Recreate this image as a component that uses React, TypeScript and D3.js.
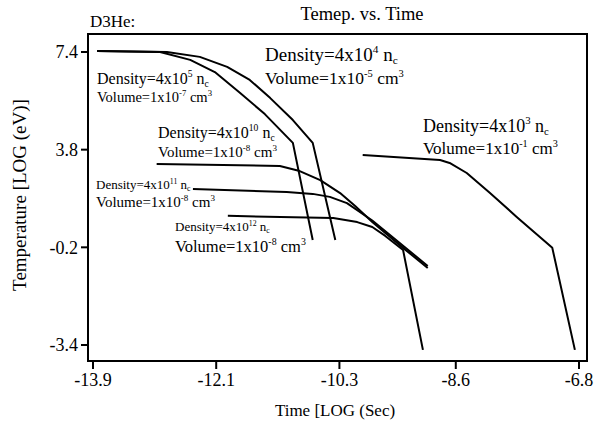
import * as d3 from "d3";
import React from "react";

// axis ticks
const xTickValues = [-13.9, -12.1, -10.3, -8.6, -6.8];
const xTickLabels = ["-13.9", "-12.1", "-10.3", "-8.6", "-6.8"];
const yTickValues = [7.4, 3.8, 0.2, -3.4];
const yTickLabels = ["7.4", "3.8", "-0.2", "-3.4"];

// curves, log10 time vs log10 temperature
const d4x = [-13.84, -12.82, -12.34, -11.94, -11.61, -11.31, -10.98, -10.69, -10.36];
const d4y = [7.44, 7.4, 7.22, 6.85, 6.37, 5.7, 4.89, 4.05, 0.47];

const d5x = [-13.84, -12.92, -12.48, -12.12, -11.75, -11.39, -10.98, -10.69];
const d5y = [7.44, 7.4, 7.11, 6.66, 5.89, 5.11, 4.05, 0.47];

const d10x = [-12.97, -11.17, -10.88, -10.58, -10.29, -10.07, -9.82, -9.37, -9.01];
const d10y = [3.27, 3.2, 3.01, 2.68, 2.2, 1.72, 1.13, 0.18, -0.56];

const d11x = [-12.44, -11.07, -10.69, -10.44, -10.19, -9.82, -9.37, -9.01];
const d11y = [2.35, 2.24, 2.17, 2.06, 1.83, 1.19, 0.26, -0.49];

const d12x = [-11.93, -10.39, -10.04, -9.82, -9.63, -9.37, -9.08];
const d12y = [1.36, 1.28, 1.13, 0.95, 0.62, 0.1, -3.58];

const d3x = [-9.96, -8.83, -8.69, -8.44, -8.1, -7.71, -7.19, -6.86];
const d3y = [3.6, 3.42, 3.31, 2.94, 2.2, 1.32, 0.18, -3.58];

// annotation texts
const densityExp = ["4", "3", "5", "10", "11", "12"];
const volumeExp = ["-5", "-1", "-7", "-8", "-8", "-8"];

const labelLayout = [
  { x: 265, y1: 61, y2: 84, s1: 19, s2: 17.5 },
  { x: 423, y1: 132, y2: 154, s1: 18, s2: 17 },
  { x: 97, y1: 84, y2: 102, s1: 16, s2: 14.5 },
  { x: 158, y1: 138, y2: 157, s1: 16, s2: 15 },
  { x: 96, y1: 189, y2: 207, s1: 13, s2: 15 },
  { x: 175, y1: 231, y2: 252, s1: 13, s2: 16.5 },
];

const W = 596;
const H = 428;
const left = 88, right = 587, top = 34, bottom = 361;
const font = "'Liberation Serif', 'Times New Roman', serif";

const x = d3.scaleLinear().domain([-13.973, -6.683]).range([left, right]);
const y = d3.scaleLinear().domain([-3.99, 8.063]).range([bottom, top]);

const line = d3
  .line<[number, number]>()
  .x((d) => x(d[0]))
  .y((d) => y(d[1]));

const zip = (xs: number[], ys: number[]) => xs.map((v, i) => [v, ys[i]] as [number, number]);

const series = [
  zip(d4x, d4y),
  zip(d5x, d5y),
  zip(d10x, d10y),
  zip(d11x, d11y),
  zip(d12x, d12y),
  zip(d3x, d3y),
];

type Part = [string, "" | "sup" | "sub"];

const Rich = ({ x, y, size, parts }: { x: number; y: number; size: number; parts: Part[] }) => {
  let cur = 0;
  return (
    <text x={x} y={y} fontSize={size} fontFamily={font} fill="#000">
      {parts.map(([t, k], i) => {
        const want = k === "sup" ? -0.42 * size : k === "sub" ? 0.16 * size : 0;
        const dy = want - cur;
        cur = want;
        return (
          <tspan key={i} dy={dy} fontSize={k ? size * 0.6 : size}>
            {t}
          </tspan>
        );
      })}
    </text>
  );
};

export default function App() {
  return (
    <svg
      width={W}
      height={H}
      style={{ position: "absolute", left: 0, top: 0, background: "#fff" }}
    >
      <rect x={0} y={0} width={W} height={H} fill="#fff" />
      <text x={90} y={27} fontSize={17} fontFamily={font}>
        D3He:
      </text>
      <text x={362} y={20} fontSize={18.5} fontFamily={font} textAnchor="middle">
        Temep. vs. Time
      </text>

      {series.map((s, i) => (
        <path key={i} d={line(s) || ""} fill="none" stroke="#000" strokeWidth={2} strokeLinejoin="round" />
      ))}

      <rect x={left} y={top} width={right - left} height={bottom - top} fill="none" stroke="#000" strokeWidth={2} />

      {yTickValues.map((v, i) => (
        <g key={i}>
          <line x1={left - 7} x2={left} y1={y(v)} y2={y(v)} stroke="#000" strokeWidth={2} />
          <text x={left - 10} y={y(v)} dy="0.35em" fontSize={18} fontFamily={font} textAnchor="end">
            {yTickLabels[i]}
          </text>
        </g>
      ))}
      {xTickValues.map((v, i) => (
        <g key={i}>
          <line x1={x(v)} x2={x(v)} y1={bottom} y2={bottom + 8} stroke="#000" strokeWidth={2} />
          <text x={x(v)} y={bottom + 25} fontSize={18} fontFamily={font} textAnchor="middle">
            {xTickLabels[i]}
          </text>
        </g>
      ))}

      <text x={335} y={416} fontSize={17} fontFamily={font} textAnchor="middle">
        Time [LOG (Sec)
      </text>
      <text
        transform="translate(26,195) rotate(-90)"
        fontSize={19}
        fontFamily={font}
        textAnchor="middle"
      >
        Temperature [LOG (eV)]
      </text>

      {labelLayout.map((p, i) => (
        <g key={i}>
          <Rich
            x={p.x}
            y={p.y1}
            size={p.s1}
            parts={[
              ["Density=4x10", ""],
              [densityExp[i], "sup"],
              [" n", ""],
              ["c", "sub"],
            ]}
          />
          <Rich
            x={p.x}
            y={p.y2}
            size={p.s2}
            parts={[
              ["Volume=1x10", ""],
              [volumeExp[i], "sup"],
              [" cm", ""],
              ["3", "sup"],
            ]}
          />
        </g>
      ))}
    </svg>
  );
}
